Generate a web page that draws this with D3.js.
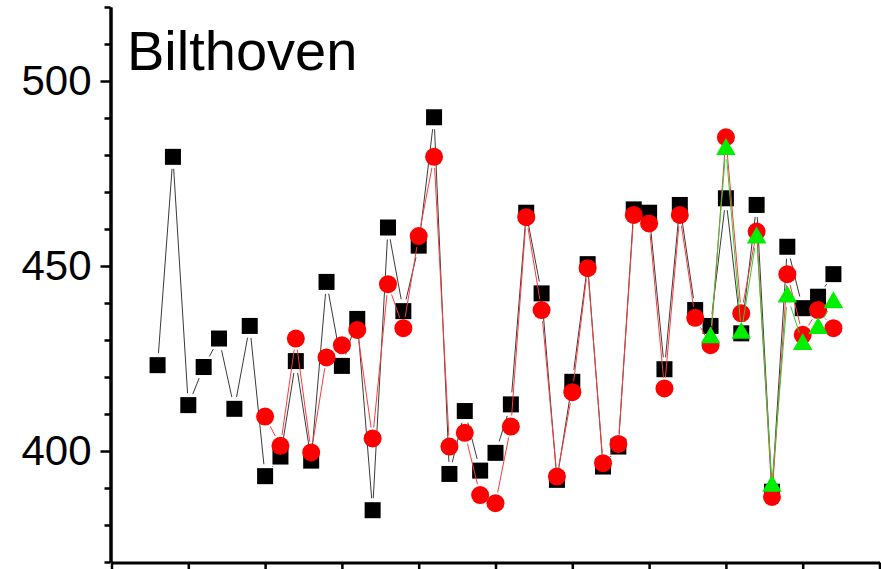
<!DOCTYPE html>
<html>
<head>
<meta charset="utf-8">
<script src="https://cdn.jsdelivr.net/npm/d3@7"></script>
<style>
  html, body { margin: 0; padding: 0; background: #fff; }
  svg { display: block; font-family: "Liberation Sans", Arial, sans-serif; }
</style>
</head>
<body>
<svg id="chart" width="881" height="569"></svg>
<script>
// ---- data ----
const title = "Bilthoven";
const blackX = [3,4,5,6,7,8,9,10,11,12,13,14,15,16,17,18,19,20,21,22,23,24,25,26,27,28,29,30,31,32,33,34,35,36,37,38,39,40,41,42,43,44,45,46,47];
const blackY = [423.2,479.5,412.4,422.7,430.4,411.4,433.8,393.2,398.5,424.3,397.4,445.7,423,435.7,384,460.4,437.8,455.5,490.2,393.8,410.8,394.7,399.5,412.6,464.4,442.6,392.2,418.7,450.5,395.8,401.2,465.3,464.4,422.1,466.5,438.1,433.8,468.3,431.8,466.5,389,455.2,438.6,441.7,447.8];
const redX = [10,11,12,13,14,15,16,17,18,19,20,21,22,23,24,25,26,27,28,29,30,31,32,33,34,35,36,37,38,39,40,41,42,43,44,45,46,47];
const redY = [409.3,401.4,430.4,399.6,425.3,428.6,432.7,403.4,445.1,433.2,458.1,479.5,401.2,404.9,388.1,385.9,406.6,463.2,438.1,393.1,415.9,449.4,396.7,401.9,463.8,461.5,416.9,463.8,436,428.6,484.8,437.2,459.3,387.6,447.8,431.4,438.1,433.2];
const greenX = [39,40,41,42,43,44,45,46,47];
const greenY = [430.9,481.8,432.1,457.9,390.8,441.9,429.1,433.4,440.4];
const yMajorTicks = [400, 450, 500];
const yMinorTicks = [370,380,390,410,420,430,440,460,470,480,490,510,520];
const xMajorTicks = [0,5,10,15,20,25,30,35,40,45,50];

// ---- scales ----
const svg = d3.select("#chart");
const x = d3.scaleLinear().domain([0, 50]).range([111.5, 879.5]);
const y = d3.scaleLinear().domain([370, 520]).range([562, 7]);

// ---- axes ----
const axisColor = "#000";
const yMinor = svg.append("g").attr("transform", "translate(110.5,0)")
  .call(d3.axisLeft(y).tickValues(yMinorTicks).tickSize(6).tickSizeOuter(0).tickFormat(""));
const yMajor = svg.append("g").attr("transform", "translate(110.5,0)")
  .call(d3.axisLeft(y).tickValues(yMajorTicks).tickSize(10).tickSizeOuter(0).tickPadding(9));
[yMinor, yMajor].forEach(g => {
  g.select(".domain").attr("stroke", axisColor).attr("stroke-width", 3);
  g.selectAll(".tick line").attr("stroke", axisColor).attr("stroke-width", 2.5);
});
yMajor.selectAll(".tick text").attr("font-size", 42).attr("fill", "#000")
  .attr("font-family", "'Liberation Sans', Arial, sans-serif");

const xAxis = svg.append("g").attr("transform", "translate(0,562.5)")
  .call(d3.axisBottom(x).tickValues(xMajorTicks).tickSize(10).tickSizeOuter(0).tickFormat(""));
xAxis.select(".domain").attr("stroke", axisColor).attr("stroke-width", 3);
xAxis.selectAll(".tick line").attr("stroke", axisColor).attr("stroke-width", 2.5);

// ---- title ----
svg.append("text").attr("x", 127).attr("y", 69.5)
  .attr("font-size", 56).attr("fill", "#000").text(title);

// ---- series ----
function drawSeries(xs, ys, lineColor, lineWidth, gap) {
  const pts = xs.map((d, i) => [x(d), y(ys[i])]);
  const g = svg.append("g");
  const segs = d3.pairs(pts);
  g.selectAll("line").data(segs).join("line")
    .each(function([a, b]) {
      const dx = b[0] - a[0], dy = b[1] - a[1];
      const len = Math.hypot(dx, dy);
      const el = d3.select(this);
      if (len <= 2 * gap) { el.remove(); return; }
      const ux = dx / len, uy = dy / len;
      el.attr("x1", a[0] + ux * gap).attr("y1", a[1] + uy * gap)
        .attr("x2", b[0] - ux * gap).attr("y2", b[1] - uy * gap);
    })
    .attr("stroke", lineColor).attr("stroke-width", lineWidth).attr("fill", "none");
  return { g, pts };
}

// black squares
const blk = drawSeries(blackX, blackY, "#3a3a3a", 1, 12);
blk.g.selectAll("rect").data(blk.pts).join("rect")
  .attr("x", d => d[0] - 8).attr("y", d => d[1] - 8)
  .attr("width", 16).attr("height", 16).attr("fill", "#000");

// red circles
const red = drawSeries(redX, redY, "#ff3a3a", 1, 11);
red.g.selectAll("circle").data(red.pts).join("circle")
  .attr("cx", d => d[0]).attr("cy", d => d[1]).attr("r", 9).attr("fill", "#ff0000");

// green triangles
const grn = drawSeries(greenX, greenY, "#33cc33", 1, 11);
const tri = d3.symbol().type(d3.symbolTriangle).size(165);
grn.g.selectAll("path.tri").data(grn.pts).join("path").attr("class", "tri")
  .attr("transform", d => `translate(${d[0]},${d[1] + 1})`)
  .attr("d", tri).attr("fill", "#00ee00");
</script>
</body>
</html>
